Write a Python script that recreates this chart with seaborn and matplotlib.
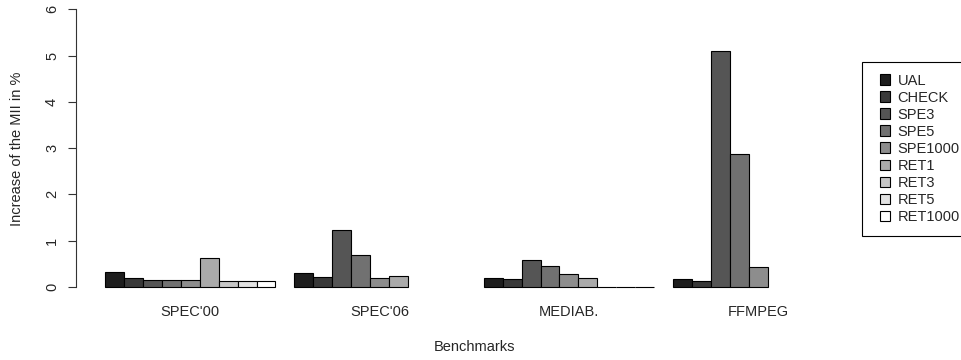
import numpy as np
import pandas as pd
import matplotlib
matplotlib.use("Agg")
import matplotlib.pyplot as plt
import matplotlib.patches as mpatches
from matplotlib.legend_handler import HandlerPatch
import seaborn as sns

# values (increase of the MII in %)
benchmarks = ["SPEC'00", "SPEC'06", "MEDIAB.", "FFMPEG"]
configs = ["UAL", "CHECK", "SPE3", "SPE5", "SPE1000", "RET1", "RET3", "RET5", "RET1000"]
spec00 = [0.32, 0.19, 0.15, 0.15, 0.15, 0.63, 0.13, 0.13, 0.13]
spec06 = [0.29, 0.22, 1.24, 0.68, 0.20, 0.24, np.nan, np.nan, np.nan]
mediab = [0.20, 0.18, 0.59, 0.45, 0.27, 0.19, 0.0, 0.0, 0.0]
ffmpeg = [0.16, 0.13, 5.10, 2.87, 0.43, np.nan, np.nan, np.nan, np.nan]
y_ticks = [0, 1, 2, 3, 4, 5, 6]

grays = ["#1e1e1e", "#393939", "#555555", "#717171", "#8d8d8d",
         "#aaaaaa", "#c6c6c6", "#e2e2e2", "#ffffff"]

rows = []
for bench, vals in zip(benchmarks, [spec00, spec06, mediab, ffmpeg]):
    for cfg, v in zip(configs, vals):
        rows.append({"benchmark": bench, "config": cfg, "value": v})
df = pd.DataFrame(rows).dropna()

sns.set_style("white")
plt.rcParams["font.family"] = ["Liberation Sans", "DejaVu Sans"]
FS = 10.5
plt.rcParams["font.size"] = FS

W, H = 961, 360
fig = plt.figure(figsize=(W / 100, H / 100), dpi=100)
ax = fig.add_axes([75.5 / W, (H - 298) / H, (873 - 75.5) / W, 298 / H])

sns.barplot(data=df, x="benchmark", y="value", hue="config",
            order=benchmarks, hue_order=configs, palette=grays,
            width=0.9, errorbar=None, edgecolor="black", linewidth=0.8,
            saturation=1, ax=ax)

ax.set_xlim(-0.606, 3.606)
ax.set_ylim(-0.24, 6.2)

for side in ["top", "right", "bottom"]:
    ax.spines[side].set_visible(False)
ax.spines["left"].set_bounds(0, 6)
ax.spines["left"].set_color("#333333")
ax.spines["left"].set_linewidth(0.8)

ax.set_yticks(y_ticks)
ax.set_yticklabels([str(t) for t in y_ticks], rotation=90, va="center")
ax.tick_params(axis="y", length=5.8, width=0.8, color="#333333", pad=6,
               left=True, labelsize=FS)
ax.tick_params(axis="x", length=0, pad=5, labelsize=FS)

ax.set_ylabel("Increase of the MII in %", fontsize=FS)
ax.yaxis.set_label_coords((17 - 75.5) / (873 - 75.5), 0.5)
ax.yaxis.label.set_va("center")
ax.set_xlabel("Benchmarks", fontsize=FS)
ax.xaxis.set_label_coords(0.5, -(347 - 298) / 298)
ax.xaxis.label.set_va("center")


def square_right(legend, orig_handle, xdescent, ydescent, width, height, fontsize):
    # square key sitting at the right end of the handle box
    return mpatches.Rectangle((-xdescent + width - height, -ydescent), height, height)


old = ax.get_legend()
handles = old.legend_handles
labels = [t.get_text() for t in old.get_texts()]
old.remove()
leg = ax.legend(handles, labels, loc="upper left",
                bbox_to_anchor=(862 / W, 1 - 62 / H), bbox_transform=fig.transFigure,
                borderaxespad=0, frameon=True, fancybox=False, framealpha=1,
                edgecolor="black", fontsize=FS, handlelength=1.15, handleheight=0.75,
                handletextpad=0.48, labelspacing=0.21, borderpad=0.8,
                handler_map={mpatches.Rectangle: HandlerPatch(patch_func=square_right),
                             mpatches.Patch: HandlerPatch(patch_func=square_right)})
leg.get_frame().set_linewidth(0.8)
for h in leg.legend_handles:
    h.set_edgecolor("black")
    h.set_linewidth(0.8)

fig.savefig("out.png", dpi=100)
